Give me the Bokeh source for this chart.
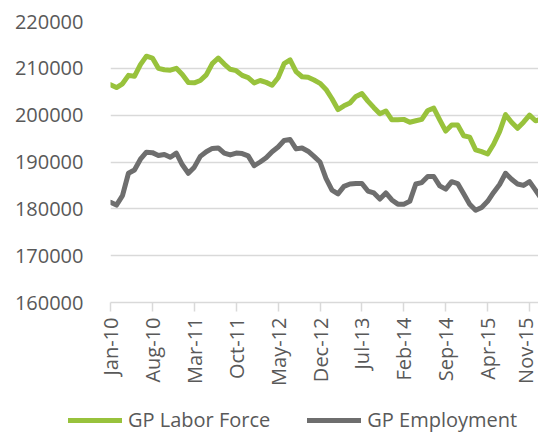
import math
import pandas as pd
from bokeh.plotting import figure
from bokeh.layouts import column
from bokeh.models import Legend, LegendItem, FixedTicker, Range1d
from bokeh.embed import file_html
from bokeh.resources import INLINE

months = [d.strftime("%b-%y") for d in pd.date_range("2010-01-01", periods=74, freq="MS")]

labor_force = [
    206500, 205900, 206700, 208500, 208300, 210800, 212600, 212200, 210000, 209700,
    209600, 210000, 208700, 207000, 206900, 207400, 208600, 211000, 212200, 210900,
    209800, 209500, 208500, 208000, 206900, 207400, 207000, 206400, 208000, 211000,
    211800, 209300, 208200, 208100, 207500, 206800, 205500, 203500, 201200, 202000,
    202600, 204000, 204600, 203000, 201600, 200300, 200900, 199000, 199000, 199100,
    198500, 198800, 199100, 201000, 201500, 199000, 196600, 197900, 197900, 195600,
    195300, 192600, 192200, 191700, 193800, 196500, 200100, 198500, 197200, 198500,
    200000, 198800, 199200, 198400,
]

employment = [
    181400, 180800, 182800, 187600, 188300, 190600, 192100, 192000, 191400, 191600,
    191000, 191900, 189400, 187600, 188900, 191200, 192200, 192900, 193000, 191900,
    191500, 191900, 191800, 191300, 189200, 190000, 190900, 192200, 193200, 194600,
    194800, 192800, 193000, 192300, 191200, 190000, 186500, 184000, 183200, 184800,
    185300, 185400, 185400, 183800, 183400, 182100, 183400, 181900, 181000, 181000,
    181600, 185300, 185600, 186900, 186900, 184900, 184200, 185800, 185400, 183200,
    181000, 179700, 180300, 181600, 183500, 185200, 187600, 186300, 185300, 185000,
    185800, 184000, 182100, 181500,
]

series_names = ["GP Labor Force", "GP Employment"]
series_colors = ["#98c23c", "#6e6e6e"]

tick_labels = ["Jan-10", "Aug-10", "Mar-11", "Oct-11", "May-12", "Dec-12",
               "Jul-13", "Feb-14", "Sep-14", "Apr-15", "Nov-15"]
y_ticks = [160000, 170000, 180000, 190000, 200000, 210000, 220000]

x = list(range(len(months)))
tick_pos = [months.index(t) for t in tick_labels]

FONT = "Open Sans"
TXT = "#595959"
GRID = "#d9d9d9"

p = figure(width=538, height=404, output_backend="svg", toolbar_location=None,
           x_range=Range1d(0, 71.5), y_range=Range1d(160000, 220000),
           min_border_left=110, min_border_top=21, min_border_right=0,
           min_border_bottom=102)
p.frame_align = False

for vals, col in zip([labor_force, employment], series_colors):
    p.line(x, vals, line_color=col, line_width=5,
           line_join="round", line_cap="round")

p.outline_line_color = None
p.xgrid.grid_line_color = None
p.ygrid.grid_line_color = GRID
p.ygrid.grid_line_width = 1.5
p.yaxis.ticker = FixedTicker(ticks=y_ticks)
p.xaxis.ticker = FixedTicker(ticks=tick_pos)
p.xaxis.major_label_overrides = {i: months[i] for i in tick_pos}
p.yaxis.formatter.use_scientific = False

for ax in (p.xaxis[0], p.yaxis[0]):
    ax.major_label_text_font = FONT
    ax.major_label_text_font_size = "20px"
    ax.major_label_text_color = TXT
    ax.minor_tick_line_color = None

p.yaxis.axis_line_color = None
p.yaxis.major_tick_line_color = None
p.yaxis.major_label_standoff = 21

p.xaxis.axis_line_color = GRID
p.xaxis.axis_line_width = 1.5
p.xaxis.major_tick_line_color = GRID
p.xaxis.major_tick_line_width = 1.5
p.xaxis.major_tick_out = 9
p.xaxis.major_tick_in = 0
p.xaxis.major_label_standoff = 6
p.xaxis.major_label_orientation = math.pi / 2

# legend strip below the chart
lg = figure(width=538, height=30, output_backend="svg", toolbar_location=None,
            x_range=Range1d(0, 1), y_range=Range1d(0, 1),
            x_axis_location=None, y_axis_location=None, min_border=0)
lg.frame_align = False
lg.outline_line_color = None
lg.grid.grid_line_color = None
items = []
for name, col in zip(series_names, series_colors):
    rr = lg.line([float("nan")], [float("nan")], line_color=col, line_width=5,
                 line_cap="round")
    items.append(LegendItem(label=name, renderers=[rr]))

legend = Legend(items=items, orientation="horizontal", location=(68, 1),
                glyph_width=54, glyph_height=20, label_standoff=6, spacing=37,
                padding=0, margin=0, border_line_color=None,
                background_fill_alpha=0,
                label_text_font=FONT, label_text_font_size="20px",
                label_text_color=TXT)
lg.add_layout(legend, "center")

layout = column(p, lg, spacing=0)
open("out.html", "w").write(file_html(layout, INLINE))
